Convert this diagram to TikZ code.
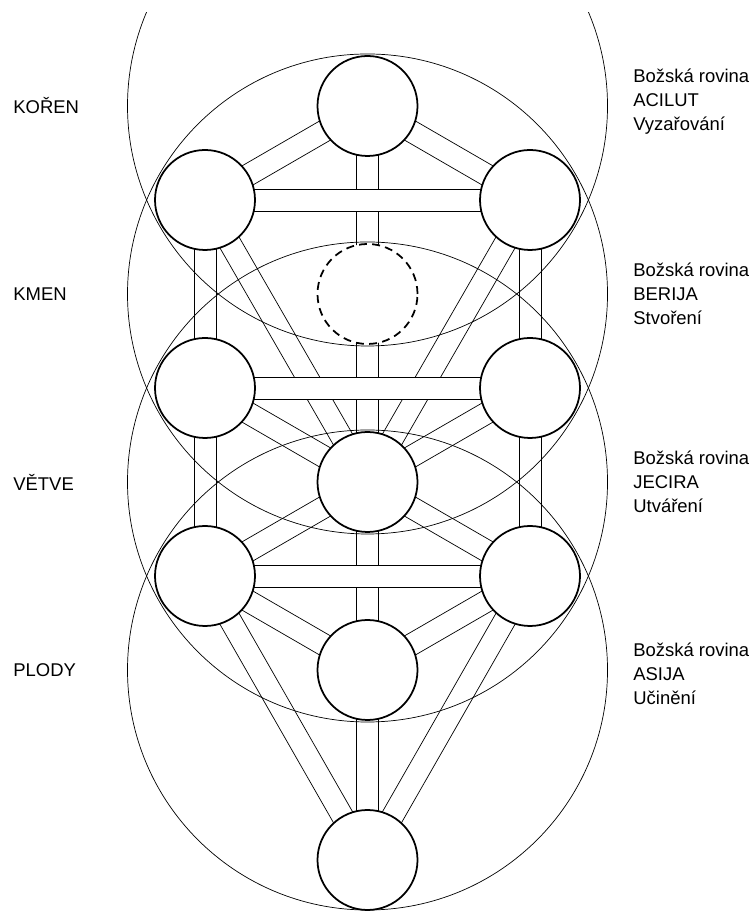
\documentclass[tikz,border=0pt]{standalone}
\usepackage{fontspec}
\setmainfont{Liberation Sans}
\usetikzlibrary{calc}

% everything but the sefirot goes under them
\pgfdeclarelayer{channels}
\pgfsetlayers{channels,main}

\begin{document}
\begin{tikzpicture}[line width=1pt,
  sefira/.style={circle, draw, fill=white, minimum size=2cm, inner sep=0pt},
  world/.style={anchor=west, inner sep=0pt, font=\fontsize{10.5pt}{13.6pt}\selectfont},
  plane/.style={anchor=west, inner sep=0pt, align=left, font=\fontsize{10.5pt}{13.6pt}\selectfont}]

% Frame: 755 x 911 px, 1 px = 0.02 cm
\useasboundingbox (0,0) rectangle (15.1,18.22);

% Sefirot (middle pillar x=7.35, side pillars x=4.10 / 10.60)
\node[sefira] (keter)   at (7.35,16.10) {};
\node[sefira] (binah)   at (4.10,14.22) {};
\node[sefira] (chokmah) at (10.60,14.22) {};
\node[sefira, dash pattern=on 4.5pt off 3pt] (daat) at (7.35,12.34) {};
\node[sefira] (geburah) at (4.10,10.46) {};
\node[sefira] (chesed)  at (10.60,10.46) {};
\node[sefira] (tiferet) at (7.35,8.58) {};
\node[sefira] (hod)     at (4.10,6.70) {};
\node[sefira] (netzach) at (10.60,6.70) {};
\node[sefira] (yesod)   at (7.35,4.82) {};
\node[sefira] (malkut)  at (7.35,1.02) {};

\begin{pgfonlayer}{channels}
% Paths: two parallel lines, 0.44 cm apart
\foreach \a/\b in {keter/binah, keter/chokmah, keter/tiferet,
    binah/geburah, chokmah/chesed, binah/tiferet, chokmah/tiferet,
    geburah/tiferet, chesed/tiferet, geburah/hod, chesed/netzach,
    tiferet/hod, tiferet/netzach, tiferet/yesod, hod/yesod, netzach/yesod,
    hod/malkut, netzach/malkut, yesod/malkut}
  \draw ($(\a.center)!0.22cm!90:(\b.center)$) -- ($(\b.center)!0.22cm!-90:(\a.center)$)
        ($(\a.center)!0.22cm!-90:(\b.center)$) -- ($(\b.center)!0.22cm!90:(\a.center)$);

% Four worlds
\begin{scope}
  \clip (0,0) rectangle (15.1,17.96);
  \foreach \c in {keter, daat, tiferet, yesod}
    \draw (\c) circle (4.8);
\end{scope}

% Horizontal channels lie over the others
\foreach \a/\b in {binah/chokmah, geburah/chesed, hod/netzach}
  \filldraw[fill=white] ($(\a.center)+(0,0.22)$) rectangle ($(\b.center)-(0,0.22)$);
\end{pgfonlayer}

% Left labels
\node[world] (koren) at (0.26,16.10) {KOŘEN};
\node[world] (kmen)  at (0.26,12.34) {KMEN};
\node[world] (vetve) at (0.26,8.58)  {VĚTVE};
\node[world] (plody) at (0.26,4.82)  {PLODY};

% Right labels
\node[plane] (acilut) at (12.66,16.18) {Božská rovina\\ACILUT\\Vyzařování};
\node[plane] (berija) at (12.66,12.34) {Božská rovina\\BERIJA\\Stvoření};
\node[plane] (jecira) at (12.66,8.58)  {Božská rovina\\JECIRA\\Utváření};
\node[plane] (asija)  at (12.66,4.74)  {Božská rovina\\ASIJA\\Učinění};

\end{tikzpicture}
\end{document}
